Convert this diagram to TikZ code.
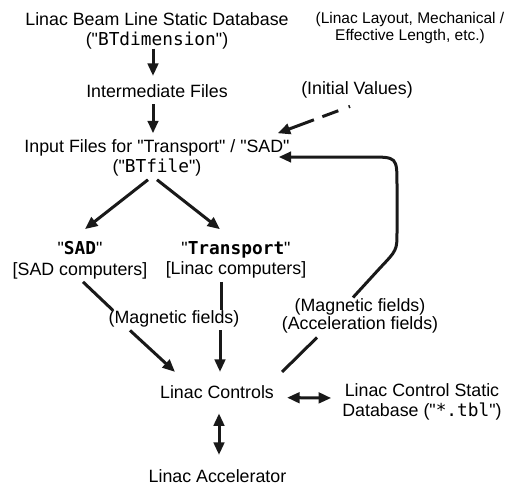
\documentclass[tikz,border=0pt]{standalone}
\usepackage{fontspec}
\setmainfont{Liberation Sans}[Ligatures=TeXOff]
\setmonofont{DejaVu Sans Mono}
\usetikzlibrary{arrows.meta,calc}

\begin{document}
\begin{tikzpicture}[x=1pt,y=-1pt,
  lbl/.style={inner sep=0pt, align=center, font=\fontsize{17.8}{20.5}\selectfont},
  ln/.style={line width=3pt, draw=black!90},
  arr/.style={ln, -{Triangle[length=12.5pt,width=10.5pt]}},
  darr/.style={ln, {Triangle[length=12.5pt,width=10.5pt]}-{Triangle[length=12.5pt,width=10.5pt]}},
  dashedarr/.style={arr, dash pattern=on 1.5pt off 11pt on 17pt off 9pt on 60pt}
]
\useasboundingbox (0,0) rectangle (507,485);

% data sources and files
\node[lbl] (db) at (157,31) {Linac Beam Line Static Database\\("\texttt{BTdimension}")};
\node[lbl, font=\fontsize{15.5}{17.5}\selectfont] (note) at (410,28)
  {(Linac Layout, Mechanical /\\Effective Length, etc.)};
\node[lbl, anchor=base] (inter) at (157,97) {Intermediate Files};
\node[lbl, anchor=base] (iv) at (357,94.5) {(Initial Values)};
\node[lbl] (input) at (157,158) {Input Files for "Transport" / "SAD"\\("\texttt{BTfile}")};

% simulation codes
\node[lbl] (sad) at (80,260) {"\texttt{\bfseries SAD}"\\{}[SAD computers]};
\node[lbl] (tr) at (236,260) {"\texttt{\bfseries Transport}"\\{}[Linac computers]};

% field labels
\node[lbl, anchor=base] (mf1) at (174,323.5) {(Magnetic fields)};
\node[lbl, font=\fontsize{17.8}{18}\selectfont] (mf2) at (360,316)
  {(Magnetic fields)\\(Acceleration fields)};

% control system
\node[lbl, anchor=base] (ctl) at (217,398) {Linac Controls};
\node[lbl] (cdb) at (422,402) {Linac Control Static\\Database ("\texttt{*.tbl}")};
\node[lbl, anchor=base] (acc) at (217.5,482.5) {Linac Accelerator};

% main chain
\draw[arr] ($(db.south)+(-4,-1)$) -- ($(inter.north)+(-4,-8)$);
\draw[arr] ($(inter.south)+(-4,7)$) -- ($(input.north)+(-4,-6)$);

% initial values (dashed)
\coordinate (ivdot) at ($(iv.south)+(-7,8)$);
\coordinate (ivtip) at ($(input.north east)+(-12,-6)$);
\draw[dashedarr] (ivdot) -- (ivtip);

% split to the two codes
\draw[arr] ($(input.south)+(-9,3)$) -- ($(sad.north)+(5,-12)$);
\draw[arr] ($(input.south)+(0,3)$) -- ($(tr.north)+(-16,-12)$);

% fields into the controls
\draw[ln]  ($(sad.south)+(3,3)$) -- ($(mf1.north)+(-61,0)$);
\draw[arr] ($(mf1.south)+(-44,3)$) -- ($(ctl.north)+(-42,-13)$);
\draw[ln]  ($(tr.south)+(-15,3)$) -- ($(mf1.north)+(47,0)$);
\draw[arr] ($(mf1.south)+(46,3)$) -- ($(ctl.north)+(3,-13)$);

% feedback loop from the controls
\draw[ln] ($(mf2.south)+(-43,4)$) -- ($(ctl.north east)+(8,-13)$);
\coordinate (lp0) at ($(mf2.north)+(-7,-1)$);
\coordinate (lptip) at ($(input.east)+(-11,-1)$);
\draw[arr] (lp0) -- (380,268) .. controls (397,250) .. (397,232) -- (397,185)
  .. controls (397,157) .. (369,157) -- (lptip);

% bidirectional links
\draw[darr] ($(ctl.east)+(13,6)$) -- ($(cdb.west)+(-11,-4)$);
\draw[darr] ($(ctl.south)+(2,15)$) -- ($(acc.north)+(1.5,-14.5)$);
\end{tikzpicture}
\end{document}
